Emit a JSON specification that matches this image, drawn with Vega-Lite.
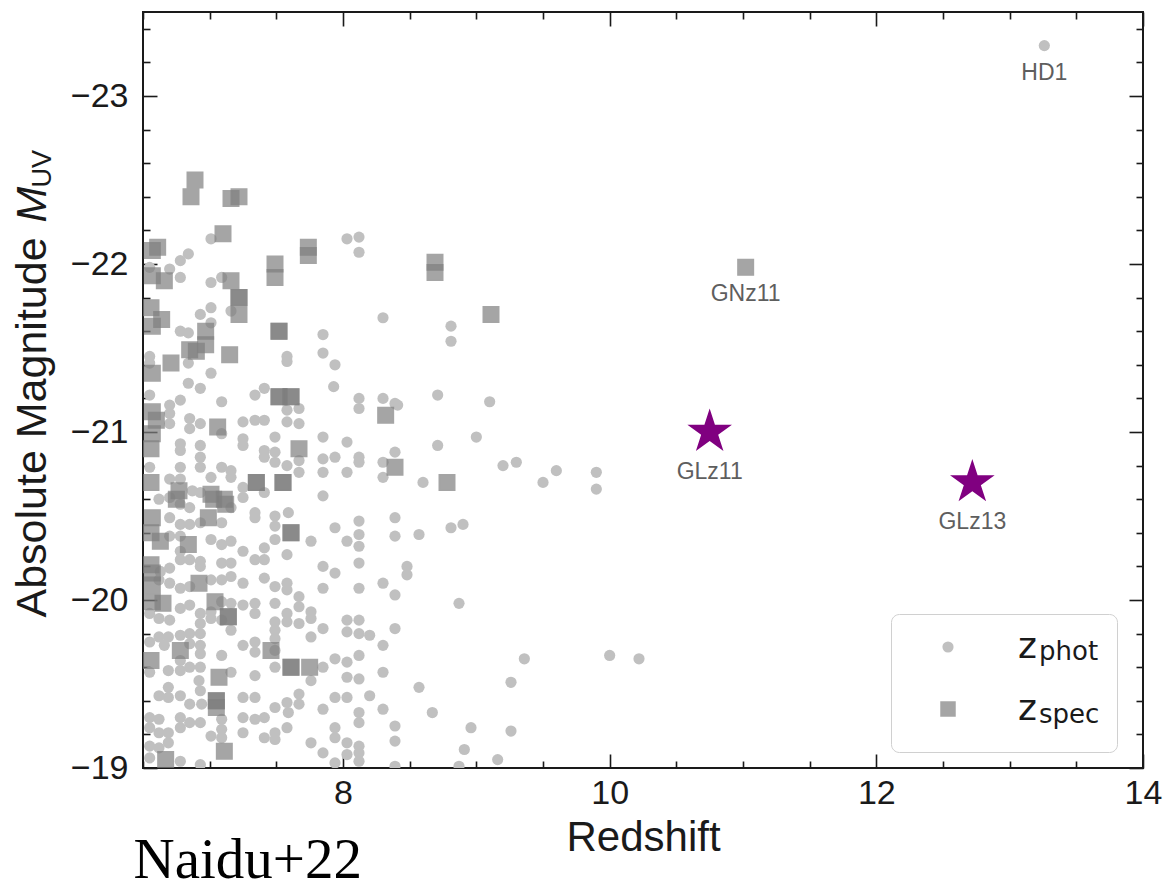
{
  "$schema": "https://vega.github.io/schema/vega-lite/v6.json",
  "width": 1000,
  "height": 756,
  "autosize": {"type": "none"},
  "padding": {"left": 143, "top": 12, "right": 25, "bottom": 113},
  "background": "white",
  "config": {
    "view": {"stroke": "#1a1a1a", "strokeWidth": 2},
    "axis": {
      "domain": false,
      "grid": false,
      "labelFont": "Liberation Sans",
      "titleFont": "Liberation Sans",
      "tickColor": "#1a1a1a",
      "tickWidth": 1.6,
      "labelColor": "#1a1a1a",
      "titleColor": "#1a1a1a",
      "titleFontWeight": "normal",
      "labelOverlap": false,
      "labelFlush": false,
      "labelBound": false,
      "labelAngle": 0
    }
  },
  "datasets": {
    "galaxies": [
      {"z":7.01,"muv":-22.15,"sample":"phot"},{"z":6.84,"muv":-22.06,"sample":"phot"},{"z":6.78,"muv":-22.02,"sample":"phot"},{"z":6.70,"muv":-21.97,"sample":"phot"},
      {"z":6.55,"muv":-21.98,"sample":"phot"},{"z":6.78,"muv":-21.92,"sample":"phot"},{"z":7.01,"muv":-21.89,"sample":"phot"},{"z":7.09,"muv":-21.92,"sample":"phot"},
      {"z":8.03,"muv":-22.15,"sample":"phot"},{"z":8.12,"muv":-22.16,"sample":"phot"},{"z":8.12,"muv":-22.07,"sample":"phot"},{"z":7.01,"muv":-21.74,"sample":"phot"},
      {"z":6.93,"muv":-21.70,"sample":"phot"},{"z":7.01,"muv":-21.65,"sample":"phot"},{"z":7.16,"muv":-21.72,"sample":"phot"},{"z":6.78,"muv":-21.60,"sample":"phot"},
      {"z":6.84,"muv":-21.59,"sample":"phot"},{"z":7.85,"muv":-21.58,"sample":"phot"},{"z":7.85,"muv":-21.47,"sample":"phot"},{"z":7.58,"muv":-21.45,"sample":"phot"},
      {"z":7.58,"muv":-21.42,"sample":"phot"},{"z":7.94,"muv":-21.40,"sample":"phot"},{"z":6.84,"muv":-21.41,"sample":"phot"},{"z":7.01,"muv":-21.35,"sample":"phot"},
      {"z":6.55,"muv":-21.45,"sample":"phot"},{"z":6.55,"muv":-21.41,"sample":"phot"},{"z":8.30,"muv":-21.68,"sample":"phot"},{"z":8.81,"muv":-21.63,"sample":"phot"},
      {"z":8.81,"muv":-21.54,"sample":"phot"},{"z":6.84,"muv":-21.29,"sample":"phot"},{"z":6.93,"muv":-21.26,"sample":"phot"},{"z":7.93,"muv":-21.27,"sample":"phot"},
      {"z":6.55,"muv":-21.22,"sample":"phot"},{"z":6.78,"muv":-21.19,"sample":"phot"},{"z":7.34,"muv":-21.22,"sample":"phot"},{"z":7.41,"muv":-21.26,"sample":"phot"},
      {"z":7.09,"muv":-21.18,"sample":"phot"},{"z":8.12,"muv":-21.20,"sample":"phot"},{"z":8.12,"muv":-21.14,"sample":"phot"},{"z":7.58,"muv":-21.13,"sample":"phot"},
      {"z":7.67,"muv":-21.14,"sample":"phot"},{"z":6.70,"muv":-21.16,"sample":"phot"},{"z":6.70,"muv":-21.11,"sample":"phot"},{"z":6.85,"muv":-21.08,"sample":"phot"},
      {"z":6.93,"muv":-21.05,"sample":"phot"},{"z":6.85,"muv":-21.02,"sample":"phot"},{"z":6.70,"muv":-21.05,"sample":"phot"},{"z":7.09,"muv":-20.99,"sample":"phot"},
      {"z":7.25,"muv":-21.06,"sample":"phot"},{"z":7.34,"muv":-21.07,"sample":"phot"},{"z":7.41,"muv":-21.07,"sample":"phot"},{"z":7.58,"muv":-21.06,"sample":"phot"},
      {"z":7.67,"muv":-21.05,"sample":"phot"},{"z":7.49,"muv":-20.97,"sample":"phot"},{"z":7.25,"muv":-20.96,"sample":"phot"},{"z":7.25,"muv":-20.92,"sample":"phot"},
      {"z":6.78,"muv":-20.93,"sample":"phot"},{"z":6.78,"muv":-20.89,"sample":"phot"},{"z":6.93,"muv":-20.92,"sample":"phot"},{"z":7.85,"muv":-20.97,"sample":"phot"},
      {"z":8.03,"muv":-20.94,"sample":"phot"},{"z":7.41,"muv":-20.89,"sample":"phot"},{"z":7.41,"muv":-20.85,"sample":"phot"},{"z":7.49,"muv":-20.88,"sample":"phot"},
      {"z":7.49,"muv":-20.82,"sample":"phot"},{"z":6.93,"muv":-20.85,"sample":"phot"},{"z":6.93,"muv":-20.79,"sample":"phot"},{"z":6.78,"muv":-20.79,"sample":"phot"},
      {"z":7.09,"muv":-20.79,"sample":"phot"},{"z":7.16,"muv":-20.77,"sample":"phot"},{"z":7.16,"muv":-20.73,"sample":"phot"},{"z":7.58,"muv":-20.80,"sample":"phot"},
      {"z":7.67,"muv":-20.83,"sample":"phot"},{"z":7.67,"muv":-20.76,"sample":"phot"},{"z":7.85,"muv":-20.84,"sample":"phot"},{"z":7.94,"muv":-20.85,"sample":"phot"},
      {"z":8.12,"muv":-20.85,"sample":"phot"},{"z":8.12,"muv":-20.82,"sample":"phot"},{"z":7.85,"muv":-20.76,"sample":"phot"},{"z":8.03,"muv":-20.76,"sample":"phot"},
      {"z":6.55,"muv":-20.79,"sample":"phot"},{"z":6.70,"muv":-20.72,"sample":"phot"},{"z":6.78,"muv":-20.72,"sample":"phot"},{"z":7.01,"muv":-20.73,"sample":"phot"},
      {"z":6.93,"muv":-20.64,"sample":"phot"},{"z":6.87,"muv":-20.65,"sample":"phot"},{"z":6.70,"muv":-20.61,"sample":"phot"},{"z":6.62,"muv":-20.60,"sample":"phot"},
      {"z":6.78,"muv":-20.57,"sample":"phot"},{"z":6.85,"muv":-20.55,"sample":"phot"},{"z":7.25,"muv":-20.67,"sample":"phot"},{"z":7.41,"muv":-20.64,"sample":"phot"},
      {"z":7.25,"muv":-20.61,"sample":"phot"},{"z":7.34,"muv":-20.52,"sample":"phot"},{"z":7.34,"muv":-20.49,"sample":"phot"},{"z":7.49,"muv":-20.50,"sample":"phot"},
      {"z":7.59,"muv":-20.52,"sample":"phot"},{"z":7.85,"muv":-20.62,"sample":"phot"},{"z":7.16,"muv":-20.55,"sample":"phot"},{"z":6.70,"muv":-20.49,"sample":"phot"},
      {"z":6.78,"muv":-20.45,"sample":"phot"},{"z":6.85,"muv":-20.45,"sample":"phot"},{"z":6.93,"muv":-20.46,"sample":"phot"},{"z":7.09,"muv":-20.46,"sample":"phot"},
      {"z":6.78,"muv":-20.38,"sample":"phot"},{"z":6.70,"muv":-20.38,"sample":"phot"},{"z":7.01,"muv":-20.36,"sample":"phot"},{"z":7.09,"muv":-20.33,"sample":"phot"},
      {"z":7.16,"muv":-20.35,"sample":"phot"},{"z":7.25,"muv":-20.29,"sample":"phot"},{"z":7.34,"muv":-20.24,"sample":"phot"},{"z":7.41,"muv":-20.24,"sample":"phot"},
      {"z":7.41,"muv":-20.31,"sample":"phot"},{"z":7.49,"muv":-20.36,"sample":"phot"},{"z":7.49,"muv":-20.44,"sample":"phot"},{"z":7.58,"muv":-20.27,"sample":"phot"},
      {"z":7.76,"muv":-20.35,"sample":"phot"},{"z":7.94,"muv":-20.43,"sample":"phot"},{"z":8.03,"muv":-20.35,"sample":"phot"},{"z":8.12,"muv":-20.47,"sample":"phot"},
      {"z":8.12,"muv":-20.39,"sample":"phot"},{"z":8.12,"muv":-20.32,"sample":"phot"},{"z":8.12,"muv":-20.22,"sample":"phot"},{"z":7.85,"muv":-20.20,"sample":"phot"},
      {"z":7.94,"muv":-20.16,"sample":"phot"},{"z":6.78,"muv":-20.29,"sample":"phot"},{"z":6.78,"muv":-20.24,"sample":"phot"},{"z":6.85,"muv":-20.24,"sample":"phot"},
      {"z":6.93,"muv":-20.23,"sample":"phot"},{"z":6.93,"muv":-20.20,"sample":"phot"},{"z":6.70,"muv":-20.19,"sample":"phot"},{"z":6.63,"muv":-20.17,"sample":"phot"},
      {"z":7.09,"muv":-20.22,"sample":"phot"},{"z":7.16,"muv":-20.22,"sample":"phot"},{"z":7.09,"muv":-20.12,"sample":"phot"},{"z":7.16,"muv":-20.14,"sample":"phot"},
      {"z":7.01,"muv":-20.12,"sample":"phot"},{"z":6.78,"muv":-20.07,"sample":"phot"},{"z":6.85,"muv":-20.08,"sample":"phot"},{"z":6.70,"muv":-20.10,"sample":"phot"},
      {"z":6.62,"muv":-20.12,"sample":"phot"},{"z":7.25,"muv":-20.10,"sample":"phot"},{"z":7.41,"muv":-20.13,"sample":"phot"},{"z":7.49,"muv":-20.08,"sample":"phot"},
      {"z":7.58,"muv":-20.10,"sample":"phot"},{"z":7.85,"muv":-20.07,"sample":"phot"},{"z":8.12,"muv":-20.07,"sample":"phot"},{"z":8.30,"muv":-21.20,"sample":"phot"},
      {"z":8.39,"muv":-21.17,"sample":"phot"},{"z":8.41,"muv":-21.16,"sample":"phot"},{"z":8.71,"muv":-21.22,"sample":"phot"},{"z":9.10,"muv":-21.18,"sample":"phot"},
      {"z":8.30,"muv":-20.82,"sample":"phot"},{"z":8.39,"muv":-20.88,"sample":"phot"},{"z":8.71,"muv":-20.92,"sample":"phot"},{"z":9.00,"muv":-20.97,"sample":"phot"},
      {"z":8.30,"muv":-20.73,"sample":"phot"},{"z":8.60,"muv":-20.70,"sample":"phot"},{"z":9.20,"muv":-20.80,"sample":"phot"},{"z":9.30,"muv":-20.82,"sample":"phot"},
      {"z":9.60,"muv":-20.77,"sample":"phot"},{"z":9.50,"muv":-20.70,"sample":"phot"},{"z":9.90,"muv":-20.76,"sample":"phot"},{"z":9.90,"muv":-20.66,"sample":"phot"},
      {"z":8.39,"muv":-20.49,"sample":"phot"},{"z":8.39,"muv":-20.38,"sample":"phot"},{"z":8.57,"muv":-20.39,"sample":"phot"},{"z":8.81,"muv":-20.43,"sample":"phot"},
      {"z":8.90,"muv":-20.45,"sample":"phot"},{"z":8.48,"muv":-20.20,"sample":"phot"},{"z":8.48,"muv":-20.15,"sample":"phot"},{"z":8.30,"muv":-20.10,"sample":"phot"},
      {"z":7.58,"muv":-20.06,"sample":"phot"},{"z":7.67,"muv":-20.02,"sample":"phot"},{"z":6.85,"muv":-19.97,"sample":"phot"},{"z":6.78,"muv":-19.95,"sample":"phot"},
      {"z":6.93,"muv":-19.92,"sample":"phot"},{"z":7.01,"muv":-19.93,"sample":"phot"},{"z":7.09,"muv":-19.99,"sample":"phot"},{"z":7.16,"muv":-19.98,"sample":"phot"},
      {"z":7.25,"muv":-19.97,"sample":"phot"},{"z":7.34,"muv":-19.98,"sample":"phot"},{"z":7.34,"muv":-19.92,"sample":"phot"},{"z":7.49,"muv":-19.98,"sample":"phot"},
      {"z":7.58,"muv":-19.92,"sample":"phot"},{"z":7.67,"muv":-19.96,"sample":"phot"},{"z":7.76,"muv":-19.93,"sample":"phot"},{"z":6.55,"muv":-19.92,"sample":"phot"},
      {"z":6.62,"muv":-19.89,"sample":"phot"},{"z":6.70,"muv":-19.88,"sample":"phot"},{"z":6.93,"muv":-19.86,"sample":"phot"},{"z":7.01,"muv":-19.89,"sample":"phot"},
      {"z":7.09,"muv":-19.88,"sample":"phot"},{"z":7.49,"muv":-19.87,"sample":"phot"},{"z":7.58,"muv":-19.87,"sample":"phot"},{"z":7.67,"muv":-19.86,"sample":"phot"},
      {"z":7.76,"muv":-19.89,"sample":"phot"},{"z":7.16,"muv":-19.82,"sample":"phot"},{"z":7.49,"muv":-19.82,"sample":"phot"},{"z":7.85,"muv":-19.83,"sample":"phot"},
      {"z":8.03,"muv":-19.88,"sample":"phot"},{"z":8.12,"muv":-19.88,"sample":"phot"},{"z":8.03,"muv":-19.81,"sample":"phot"},{"z":8.12,"muv":-19.80,"sample":"phot"},
      {"z":8.20,"muv":-19.79,"sample":"phot"},{"z":6.62,"muv":-19.78,"sample":"phot"},{"z":6.69,"muv":-19.78,"sample":"phot"},{"z":6.78,"muv":-19.79,"sample":"phot"},
      {"z":6.85,"muv":-19.80,"sample":"phot"},{"z":6.93,"muv":-19.80,"sample":"phot"},{"z":6.85,"muv":-19.74,"sample":"phot"},{"z":6.93,"muv":-19.73,"sample":"phot"},
      {"z":6.66,"muv":-19.73,"sample":"phot"},{"z":6.55,"muv":-19.75,"sample":"phot"},{"z":7.25,"muv":-19.73,"sample":"phot"},{"z":7.34,"muv":-19.75,"sample":"phot"},
      {"z":7.34,"muv":-19.69,"sample":"phot"},{"z":7.49,"muv":-19.77,"sample":"phot"},{"z":7.49,"muv":-19.70,"sample":"phot"},{"z":7.76,"muv":-19.78,"sample":"phot"},
      {"z":7.94,"muv":-19.65,"sample":"phot"},{"z":8.03,"muv":-19.63,"sample":"phot"},{"z":8.12,"muv":-19.67,"sample":"phot"},{"z":7.09,"muv":-19.67,"sample":"phot"},
      {"z":6.93,"muv":-19.68,"sample":"phot"},{"z":6.78,"muv":-19.64,"sample":"phot"},{"z":6.85,"muv":-19.60,"sample":"phot"},{"z":6.78,"muv":-19.58,"sample":"phot"},
      {"z":6.93,"muv":-19.60,"sample":"phot"},{"z":6.69,"muv":-19.58,"sample":"phot"},{"z":6.55,"muv":-19.57,"sample":"phot"},{"z":7.16,"muv":-19.57,"sample":"phot"},
      {"z":7.34,"muv":-19.55,"sample":"phot"},{"z":7.49,"muv":-19.60,"sample":"phot"},{"z":7.76,"muv":-19.52,"sample":"phot"},{"z":8.03,"muv":-19.54,"sample":"phot"},
      {"z":8.12,"muv":-19.53,"sample":"phot"},{"z":7.85,"muv":-19.60,"sample":"phot"},{"z":6.92,"muv":-19.52,"sample":"phot"},{"z":6.69,"muv":-19.48,"sample":"phot"},
      {"z":6.62,"muv":-19.43,"sample":"phot"},{"z":6.69,"muv":-19.42,"sample":"phot"},{"z":6.78,"muv":-19.43,"sample":"phot"},{"z":6.93,"muv":-19.46,"sample":"phot"},
      {"z":7.25,"muv":-19.42,"sample":"phot"},{"z":7.34,"muv":-19.42,"sample":"phot"},{"z":7.67,"muv":-19.44,"sample":"phot"},{"z":7.67,"muv":-19.38,"sample":"phot"},
      {"z":7.58,"muv":-19.39,"sample":"phot"},{"z":7.49,"muv":-19.36,"sample":"phot"},{"z":7.94,"muv":-19.42,"sample":"phot"},{"z":8.03,"muv":-19.42,"sample":"phot"},
      {"z":8.20,"muv":-19.43,"sample":"phot"},{"z":6.55,"muv":-19.30,"sample":"phot"},{"z":6.62,"muv":-19.29,"sample":"phot"},{"z":6.78,"muv":-19.30,"sample":"phot"},
      {"z":6.85,"muv":-19.27,"sample":"phot"},{"z":6.93,"muv":-19.27,"sample":"phot"},{"z":6.94,"muv":-19.38,"sample":"phot"},{"z":6.85,"muv":-19.38,"sample":"phot"},
      {"z":7.09,"muv":-19.29,"sample":"phot"},{"z":7.25,"muv":-19.30,"sample":"phot"},{"z":7.34,"muv":-19.29,"sample":"phot"},{"z":7.41,"muv":-19.30,"sample":"phot"},
      {"z":7.59,"muv":-19.33,"sample":"phot"},{"z":7.85,"muv":-19.35,"sample":"phot"},{"z":8.12,"muv":-19.33,"sample":"phot"},{"z":8.12,"muv":-19.27,"sample":"phot"},
      {"z":7.94,"muv":-19.24,"sample":"phot"},{"z":6.55,"muv":-19.24,"sample":"phot"},{"z":6.69,"muv":-19.21,"sample":"phot"},{"z":6.62,"muv":-19.21,"sample":"phot"},
      {"z":6.78,"muv":-19.24,"sample":"phot"},{"z":7.09,"muv":-19.23,"sample":"phot"},{"z":7.01,"muv":-19.19,"sample":"phot"},{"z":7.09,"muv":-19.18,"sample":"phot"},
      {"z":7.25,"muv":-19.21,"sample":"phot"},{"z":7.41,"muv":-19.18,"sample":"phot"},{"z":7.49,"muv":-19.21,"sample":"phot"},{"z":7.49,"muv":-19.17,"sample":"phot"},
      {"z":7.58,"muv":-19.24,"sample":"phot"},{"z":7.76,"muv":-19.15,"sample":"phot"},{"z":7.94,"muv":-19.18,"sample":"phot"},{"z":8.03,"muv":-19.15,"sample":"phot"},
      {"z":8.12,"muv":-19.13,"sample":"phot"},{"z":8.12,"muv":-19.09,"sample":"phot"},{"z":6.55,"muv":-19.13,"sample":"phot"},{"z":6.69,"muv":-19.15,"sample":"phot"},
      {"z":6.62,"muv":-19.12,"sample":"phot"},{"z":6.55,"muv":-19.06,"sample":"phot"},{"z":6.78,"muv":-19.04,"sample":"phot"},{"z":6.93,"muv":-19.02,"sample":"phot"},
      {"z":7.85,"muv":-19.09,"sample":"phot"},{"z":7.94,"muv":-19.03,"sample":"phot"},{"z":8.03,"muv":-19.08,"sample":"phot"},{"z":8.12,"muv":-19.04,"sample":"phot"},
      {"z":8.39,"muv":-20.03,"sample":"phot"},{"z":8.87,"muv":-19.98,"sample":"phot"},{"z":8.30,"muv":-19.73,"sample":"phot"},{"z":8.39,"muv":-19.83,"sample":"phot"},
      {"z":9.36,"muv":-19.65,"sample":"phot"},{"z":10.00,"muv":-19.67,"sample":"phot"},{"z":10.22,"muv":-19.65,"sample":"phot"},{"z":8.30,"muv":-19.57,"sample":"phot"},
      {"z":8.57,"muv":-19.48,"sample":"phot"},{"z":9.26,"muv":-19.51,"sample":"phot"},{"z":8.30,"muv":-19.35,"sample":"phot"},{"z":8.67,"muv":-19.33,"sample":"phot"},
      {"z":8.39,"muv":-19.25,"sample":"phot"},{"z":8.96,"muv":-19.24,"sample":"phot"},{"z":9.26,"muv":-19.22,"sample":"phot"},{"z":8.39,"muv":-19.16,"sample":"phot"},
      {"z":8.91,"muv":-19.11,"sample":"phot"},{"z":9.16,"muv":-19.05,"sample":"phot"},{"z":8.39,"muv":-19.01,"sample":"phot"},{"z":8.87,"muv":-19.01,"sample":"phot"},
      {"z":13.26,"muv":-23.30,"sample":"phot"},

      {"z":6.89,"muv":-22.50,"sample":"spec"},{"z":6.86,"muv":-22.40,"sample":"spec"},{"z":7.16,"muv":-22.39,"sample":"spec"},{"z":7.22,"muv":-22.40,"sample":"spec"},
      {"z":7.10,"muv":-22.18,"sample":"spec"},{"z":6.61,"muv":-22.10,"sample":"spec"},{"z":6.57,"muv":-22.08,"sample":"spec"},{"z":6.57,"muv":-21.93,"sample":"spec"},
      {"z":6.66,"muv":-21.90,"sample":"spec"},{"z":7.16,"muv":-21.90,"sample":"spec"},{"z":7.49,"muv":-22.00,"sample":"spec"},{"z":7.49,"muv":-21.92,"sample":"spec"},
      {"z":7.74,"muv":-22.10,"sample":"spec"},{"z":7.74,"muv":-22.05,"sample":"spec"},{"z":7.22,"muv":-21.80,"sample":"spec"},{"z":7.22,"muv":-21.80,"sample":"spec"},
      {"z":7.22,"muv":-21.70,"sample":"spec"},{"z":6.56,"muv":-21.74,"sample":"spec"},{"z":6.64,"muv":-21.67,"sample":"spec"},{"z":6.57,"muv":-21.63,"sample":"spec"},
      {"z":6.97,"muv":-21.60,"sample":"spec"},{"z":6.97,"muv":-21.52,"sample":"spec"},{"z":6.85,"muv":-21.49,"sample":"spec"},{"z":6.90,"muv":-21.48,"sample":"spec"},
      {"z":6.71,"muv":-21.41,"sample":"spec"},{"z":7.15,"muv":-21.46,"sample":"spec"},{"z":7.52,"muv":-21.60,"sample":"spec"},{"z":7.52,"muv":-21.60,"sample":"spec"},
      {"z":6.57,"muv":-21.35,"sample":"spec"},{"z":8.69,"muv":-22.01,"sample":"spec"},{"z":8.69,"muv":-21.95,"sample":"spec"},{"z":9.11,"muv":-21.70,"sample":"spec"},
      {"z":7.52,"muv":-21.21,"sample":"spec"},{"z":7.52,"muv":-21.21,"sample":"spec"},{"z":7.61,"muv":-21.21,"sample":"spec"},{"z":7.61,"muv":-21.21,"sample":"spec"},
      {"z":6.57,"muv":-21.12,"sample":"spec"},{"z":6.60,"muv":-21.07,"sample":"spec"},{"z":6.57,"muv":-20.99,"sample":"spec"},{"z":6.56,"muv":-20.90,"sample":"spec"},
      {"z":7.06,"muv":-21.03,"sample":"spec"},{"z":7.67,"muv":-20.90,"sample":"spec"},{"z":6.56,"muv":-20.70,"sample":"spec"},{"z":6.77,"muv":-20.65,"sample":"spec"},
      {"z":6.75,"muv":-20.60,"sample":"spec"},{"z":7.01,"muv":-20.63,"sample":"spec"},{"z":7.03,"muv":-20.60,"sample":"spec"},{"z":7.11,"muv":-20.60,"sample":"spec"},
      {"z":7.12,"muv":-20.57,"sample":"spec"},{"z":7.35,"muv":-20.70,"sample":"spec"},{"z":7.35,"muv":-20.70,"sample":"spec"},{"z":7.55,"muv":-20.70,"sample":"spec"},
      {"z":7.55,"muv":-20.70,"sample":"spec"},{"z":6.99,"muv":-20.49,"sample":"spec"},{"z":6.57,"muv":-20.49,"sample":"spec"},{"z":6.56,"muv":-20.40,"sample":"spec"},
      {"z":6.63,"muv":-20.35,"sample":"spec"},{"z":6.84,"muv":-20.33,"sample":"spec"},{"z":7.61,"muv":-20.40,"sample":"spec"},{"z":7.61,"muv":-20.40,"sample":"spec"},
      {"z":6.56,"muv":-20.21,"sample":"spec"},{"z":6.57,"muv":-20.16,"sample":"spec"},{"z":6.57,"muv":-20.09,"sample":"spec"},{"z":6.57,"muv":-19.99,"sample":"spec"},
      {"z":6.65,"muv":-19.98,"sample":"spec"},{"z":6.92,"muv":-20.10,"sample":"spec"},{"z":7.04,"muv":-19.99,"sample":"spec"},{"z":7.14,"muv":-19.90,"sample":"spec"},
      {"z":7.14,"muv":-19.90,"sample":"spec"},{"z":6.78,"muv":-19.70,"sample":"spec"},{"z":6.56,"muv":-19.64,"sample":"spec"},{"z":7.46,"muv":-19.70,"sample":"spec"},
      {"z":7.61,"muv":-19.60,"sample":"spec"},{"z":7.61,"muv":-19.60,"sample":"spec"},{"z":7.75,"muv":-19.60,"sample":"spec"},{"z":7.07,"muv":-19.54,"sample":"spec"},
      {"z":7.05,"muv":-19.40,"sample":"spec"},{"z":7.05,"muv":-19.40,"sample":"spec"},{"z":7.05,"muv":-19.36,"sample":"spec"},{"z":7.11,"muv":-19.10,"sample":"spec"},
      {"z":6.67,"muv":-19.05,"sample":"spec"},{"z":8.32,"muv":-21.10,"sample":"spec"},{"z":8.39,"muv":-20.79,"sample":"spec"},{"z":8.78,"muv":-20.70,"sample":"spec"},
      {"z":11.02,"muv":-21.98,"sample":"spec"}
    ],
    "candidates": [
      {"name": "GLz11", "z": 10.75, "muv": -21.0},
      {"name": "GLz13", "z": 12.72, "muv": -20.7}
    ],
    "named": [
      {"name": "GNz11", "z": 11.02, "muv": -21.98},
      {"name": "HD1", "z": 13.26, "muv": -23.30}
    ]
  },
  "resolve": {"axis": {"x": "independent", "y": "independent"}},
  "layer": [
    {
      "data": {"name": "galaxies"},
      "transform": [{"calculate": "datum.sample", "as": "sub"}],
      "mark": {"type": "point", "filled": true, "stroke": "#7f7f7f", "clip": true},
      "encoding": {
        "x": {
          "field": "z", "type": "quantitative",
          "scale": {"domain": [6.5, 14], "nice": false, "zero": false},
          "axis": {
            "orient": "bottom",
            "values": [8, 10, 12, 14],
            "tickSize": -14,
            "format": "d",
            "labelFontSize": 34,
            "labelBaseline": "alphabetic",
            "labelPadding": 49,
            "title": "Redshift",
            "titleFontSize": 42,
            "titleAlign": "center",
            "titleBaseline": "alphabetic",
            "titleX": 500,
            "titleY": 82
          }
        },
        "y": {
          "field": "muv", "type": "quantitative",
          "scale": {"domain": [-23.5, -19], "reverse": true, "nice": false, "zero": false},
          "axis": {
            "orient": "left",
            "values": [-23, -22, -21, -20, -19],
            "tickSize": -14,
            "format": "d",
            "labelFontSize": 34,
            "labelPadding": 29,
            "title": "Absolute Magnitude",
            "titleFontSize": 43,
            "titleAngle": 270,
            "titleAlign": "left",
            "titleBaseline": "alphabetic",
            "titleX": -98,
            "titleY": 605
          }
        },
        "color": {
          "field": "sample", "type": "nominal",
          "scale": {"domain": ["phot", "spec"], "range": ["#c0c0c0", "#7f7f7f"]},
          "legend": {
            "title": null,
            "orient": "none",
            "legendX": 787,
            "legendY": 617,
            "padding": 0,
            "labelExpr": "'z'",
            "labelFont": "DejaVu Sans",
            "labelFontSize": 36,
            "labelColor": "#1a1a1a",
            "labelOffset": 52,
            "symbolOffset": 0,
            "rowPadding": 26,
            "symbolStrokeWidth": 0
          }
        },
        "shape": {
          "field": "sample", "type": "nominal",
          "scale": {"domain": ["phot", "spec"], "range": ["circle", "square"]}
        },
        "size": {
          "field": "sample", "type": "nominal",
          "scale": {"domain": ["phot", "spec"], "range": [125, 240]}
        },
        "opacity": {
          "field": "sample", "type": "nominal",
          "scale": {"domain": ["phot", "spec"], "range": [1, 0.7]}
        },
        "strokeWidth": {
          "field": "sub", "type": "nominal",
          "scale": {"range": [0.01, 1.5]},
          "legend": {
            "title": null,
            "orient": "none",
            "legendX": 748,
            "legendY": 602,
            "padding": 17,
            "strokeColor": "#d0d0d0",
            "cornerRadius": 8,
            "symbolType": "square",
            "symbolSize": 1681,
            "symbolOpacity": 0,
            "labelFont": "DejaVu Sans",
            "labelFontSize": 26,
            "labelColor": "#1a1a1a",
            "labelOffset": 88,
            "rowPadding": 20
          }
        }
      }
    },
    {
      "data": {"name": "candidates"},
      "mark": {
        "type": "point",
        "shape": "M0,-1L0.2245,-0.309L0.9511,-0.309L0.3633,0.118L0.5878,0.809L0,0.382L-0.5878,0.809L-0.3633,0.118L-0.9511,-0.309L-0.2245,-0.309Z",
        "filled": true,
        "color": "#800080",
        "size": 2200,
        "opacity": 1
      },
      "encoding": {
        "x": {
          "field": "z", "type": "quantitative",
          "scale": {"domain": [6.5, 14], "nice": false, "zero": false},
          "axis": {
            "orient": "bottom",
            "values": [6.5, 7, 7.5, 8.5, 9, 9.5, 10.5, 11, 11.5, 12.5, 13, 13.5],
            "tickSize": -7,
            "labels": false,
            "title": "Naidu+22",
            "titleFont": "Liberation Serif",
            "titleFontSize": 57,
            "titleColor": "#000000",
            "titleAlign": "left",
            "titleBaseline": "alphabetic",
            "titleX": -10,
            "titleY": 109
          }
        },
        "y": {
          "field": "muv", "type": "quantitative",
          "scale": {"domain": [-23.5, -19], "reverse": true, "nice": false, "zero": false},
          "axis": {
            "orient": "left",
            "values": [-23.4, -23.2, -22.8, -22.6, -22.4, -22.2, -21.8, -21.6, -21.4, -21.2, -20.8, -20.6, -20.4, -20.2, -19.8, -19.6, -19.4, -19.2],
            "tickSize": -7,
            "labels": false,
            "title": "M",
            "titleFontStyle": "italic",
            "titleFontSize": 43,
            "titleAngle": 270,
            "titleAlign": "left",
            "titleBaseline": "alphabetic",
            "titleX": -98,
            "titleY": 210
          }
        }
      }
    },
    {
      "data": {"name": "candidates"},
      "mark": {"type": "text", "dy": 40, "font": "Liberation Sans", "fontSize": 23, "color": "#5e5e5e"},
      "encoding": {
        "x": {
          "field": "z", "type": "quantitative",
          "scale": {"domain": [6.5, 14], "nice": false, "zero": false},
          "axis": {"orient": "top", "values": [8, 10, 12, 14], "tickSize": -14, "labels": false, "title": null}
        },
        "y": {
          "field": "muv", "type": "quantitative",
          "scale": {"domain": [-23.5, -19], "reverse": true, "nice": false, "zero": false},
          "axis": {
            "orient": "right",
            "values": [-23, -22, -21, -20, -19],
            "tickSize": -14,
            "labels": false,
            "title": "UV",
            "titleFontSize": 27,
            "titleAngle": 270,
            "titleAlign": "left",
            "titleBaseline": "alphabetic",
            "titleX": -1093,
            "titleY": 175
          }
        },
        "text": {"field": "name"}
      }
    },
    {
      "data": {"name": "named"},
      "mark": {"type": "text", "dy": 27, "font": "Liberation Sans", "fontSize": 23, "color": "#5e5e5e"},
      "encoding": {
        "x": {
          "field": "z", "type": "quantitative",
          "scale": {"domain": [6.5, 14], "nice": false, "zero": false},
          "axis": {"orient": "top", "values": [6.5, 7, 7.5, 8.5, 9, 9.5, 10.5, 11, 11.5, 12.5, 13, 13.5], "tickSize": -7, "labels": false, "title": null}
        },
        "y": {
          "field": "muv", "type": "quantitative",
          "scale": {"domain": [-23.5, -19], "reverse": true, "nice": false, "zero": false},
          "axis": {"orient": "right", "values": [-23.4, -23.2, -22.8, -22.6, -22.4, -22.2, -21.8, -21.6, -21.4, -21.2, -20.8, -20.6, -20.4, -20.2, -19.8, -19.6, -19.4, -19.2], "tickSize": -7, "labels": false, "title": null}
        },
        "text": {"field": "name"}
      }
    }
  ]
}
